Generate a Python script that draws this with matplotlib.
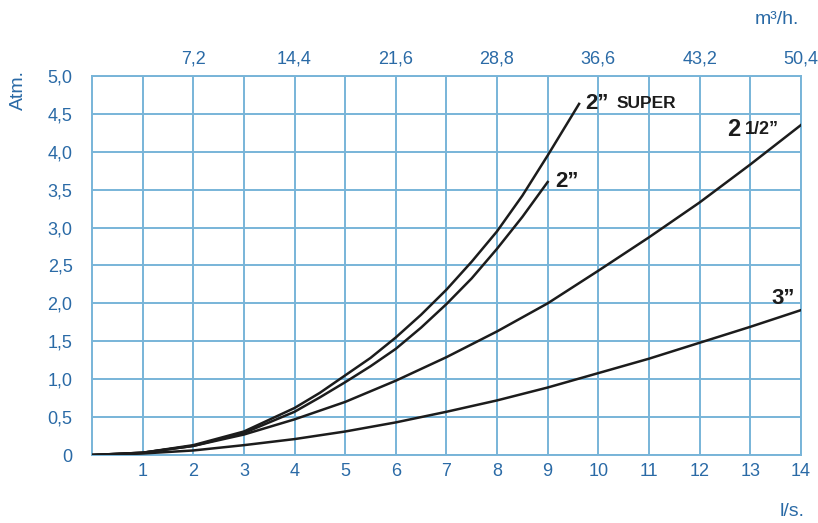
import matplotlib.pyplot as plt

plt.rcParams['font.family'] = ['Liberation Sans', 'DejaVu Sans']

# l/s values
x_super = [0, 1, 2, 3, 4, 4.5, 5, 5.5, 6, 6.5, 7, 7.5, 8, 8.5, 9, 9.62]
y_super = [0, 0.03, 0.13, 0.31, 0.62, 0.82, 1.05, 1.28, 1.55, 1.85, 2.18, 2.55, 2.95, 3.42, 3.95, 4.63]

x_2 = [0, 1, 2, 3, 4, 4.5, 5, 5.5, 6, 6.5, 7, 7.5, 8, 8.5, 9]
y_2 = [0, 0.03, 0.12, 0.29, 0.57, 0.76, 0.96, 1.17, 1.40, 1.68, 1.99, 2.33, 2.72, 3.14, 3.60]

x_25 = [0, 1, 2, 3, 4, 5, 6, 7, 8, 9, 10, 11, 12, 13, 14]
y_25 = [0, 0.03, 0.12, 0.27, 0.47, 0.70, 0.98, 1.29, 1.63, 2.0, 2.43, 2.87, 3.33, 3.83, 4.35]

x_3 = [0, 1, 2, 3, 4, 5, 6, 7, 8, 9, 10, 11, 12, 13, 14]
y_3 = [0, 0.02, 0.06, 0.13, 0.21, 0.31, 0.43, 0.57, 0.72, 0.89, 1.08, 1.27, 1.48, 1.69, 1.91]

bottom_ticks = list(range(1, 15))
left_ticks = [0, 0.5, 1.0, 1.5, 2.0, 2.5, 3.0, 3.5, 4.0, 4.5, 5.0]
left_labels = ["0", "0,5", "1,0", "1,5", "2,0", "2,5", "3,0", "3,5", "4,0", "4,5", "5,0"]
top_ticks = [2, 4, 6, 8, 10, 12, 14]
top_labels = ["7,2", "14,4", "21,6", "28,8", "36,6", "43,2", "50,4"]

grid_col = '#78b4d8'
text_col = '#2a6aa6'
line_col = '#1c1c1c'

fig = plt.figure(figsize=(8.18, 5.23), dpi=100)
ax = fig.add_axes([0.1125, 0.130, 0.8665, 0.725])

for xs, ys in [(x_super, y_super), (x_2, y_2), (x_25, y_25), (x_3, y_3)]:
    ax.plot(xs, ys, color=line_col, lw=1.8, solid_joinstyle='round', zorder=3)

ax.set_xlim(0, 14)
ax.set_ylim(0, 5)
ax.set_xticks(bottom_ticks)
ax.set_yticks(left_ticks)
ax.set_yticklabels(left_labels)
ax.grid(True, color=grid_col, lw=1.4)
for s in ax.spines.values():
    s.set_color(grid_col)
    s.set_linewidth(1.4)
ax.tick_params(length=0, labelsize=13, labelcolor=text_col)
ax.tick_params(axis='x', pad=6)
ax.tick_params(axis='y', pad=14)
ax.set_xticklabels([str(t) for t in bottom_ticks])

top = ax.twiny()
top.set_xlim(0, 14)
top.set_xticks(top_ticks)
top.set_xticklabels(top_labels)
top.tick_params(length=0, labelsize=13, labelcolor=text_col, pad=6)
for s in top.spines.values():
    s.set_visible(False)

fig.text(18 / 818, 1 - 90 / 523, "Atm.", rotation=90, color=text_col, fontsize=14,
         ha='center', va='center')
fig.text(792 / 818, 1 - 512 / 523, "l/s.", color=text_col, fontsize=14, ha='center', va='center')
fig.text(777 / 818, 1 - 20 / 523, "m³/h.", color=text_col, fontsize=14, ha='center', va='center')

# curve names
ax.text(9.74, 4.64, "2”", fontsize=16, fontweight='bold', color=line_col, va='center')
ax.text(10.37, 4.64, "SUPER", fontsize=12.5, fontweight='bold', color=line_col, va='center')
ax.text(9.15, 3.61, "2”", fontsize=16, fontweight='bold', color=line_col, va='center')
ax.text(12.55, 4.29, "2", fontsize=17, fontweight='bold', color=line_col, va='center')
ax.text(12.9, 4.29, "1/2”", fontsize=13, fontweight='bold', color=line_col, va='center')
ax.text(13.42, 2.07, "3”", fontsize=16, fontweight='bold', color=line_col, va='center')

plt.savefig("out.png", dpi=100)
